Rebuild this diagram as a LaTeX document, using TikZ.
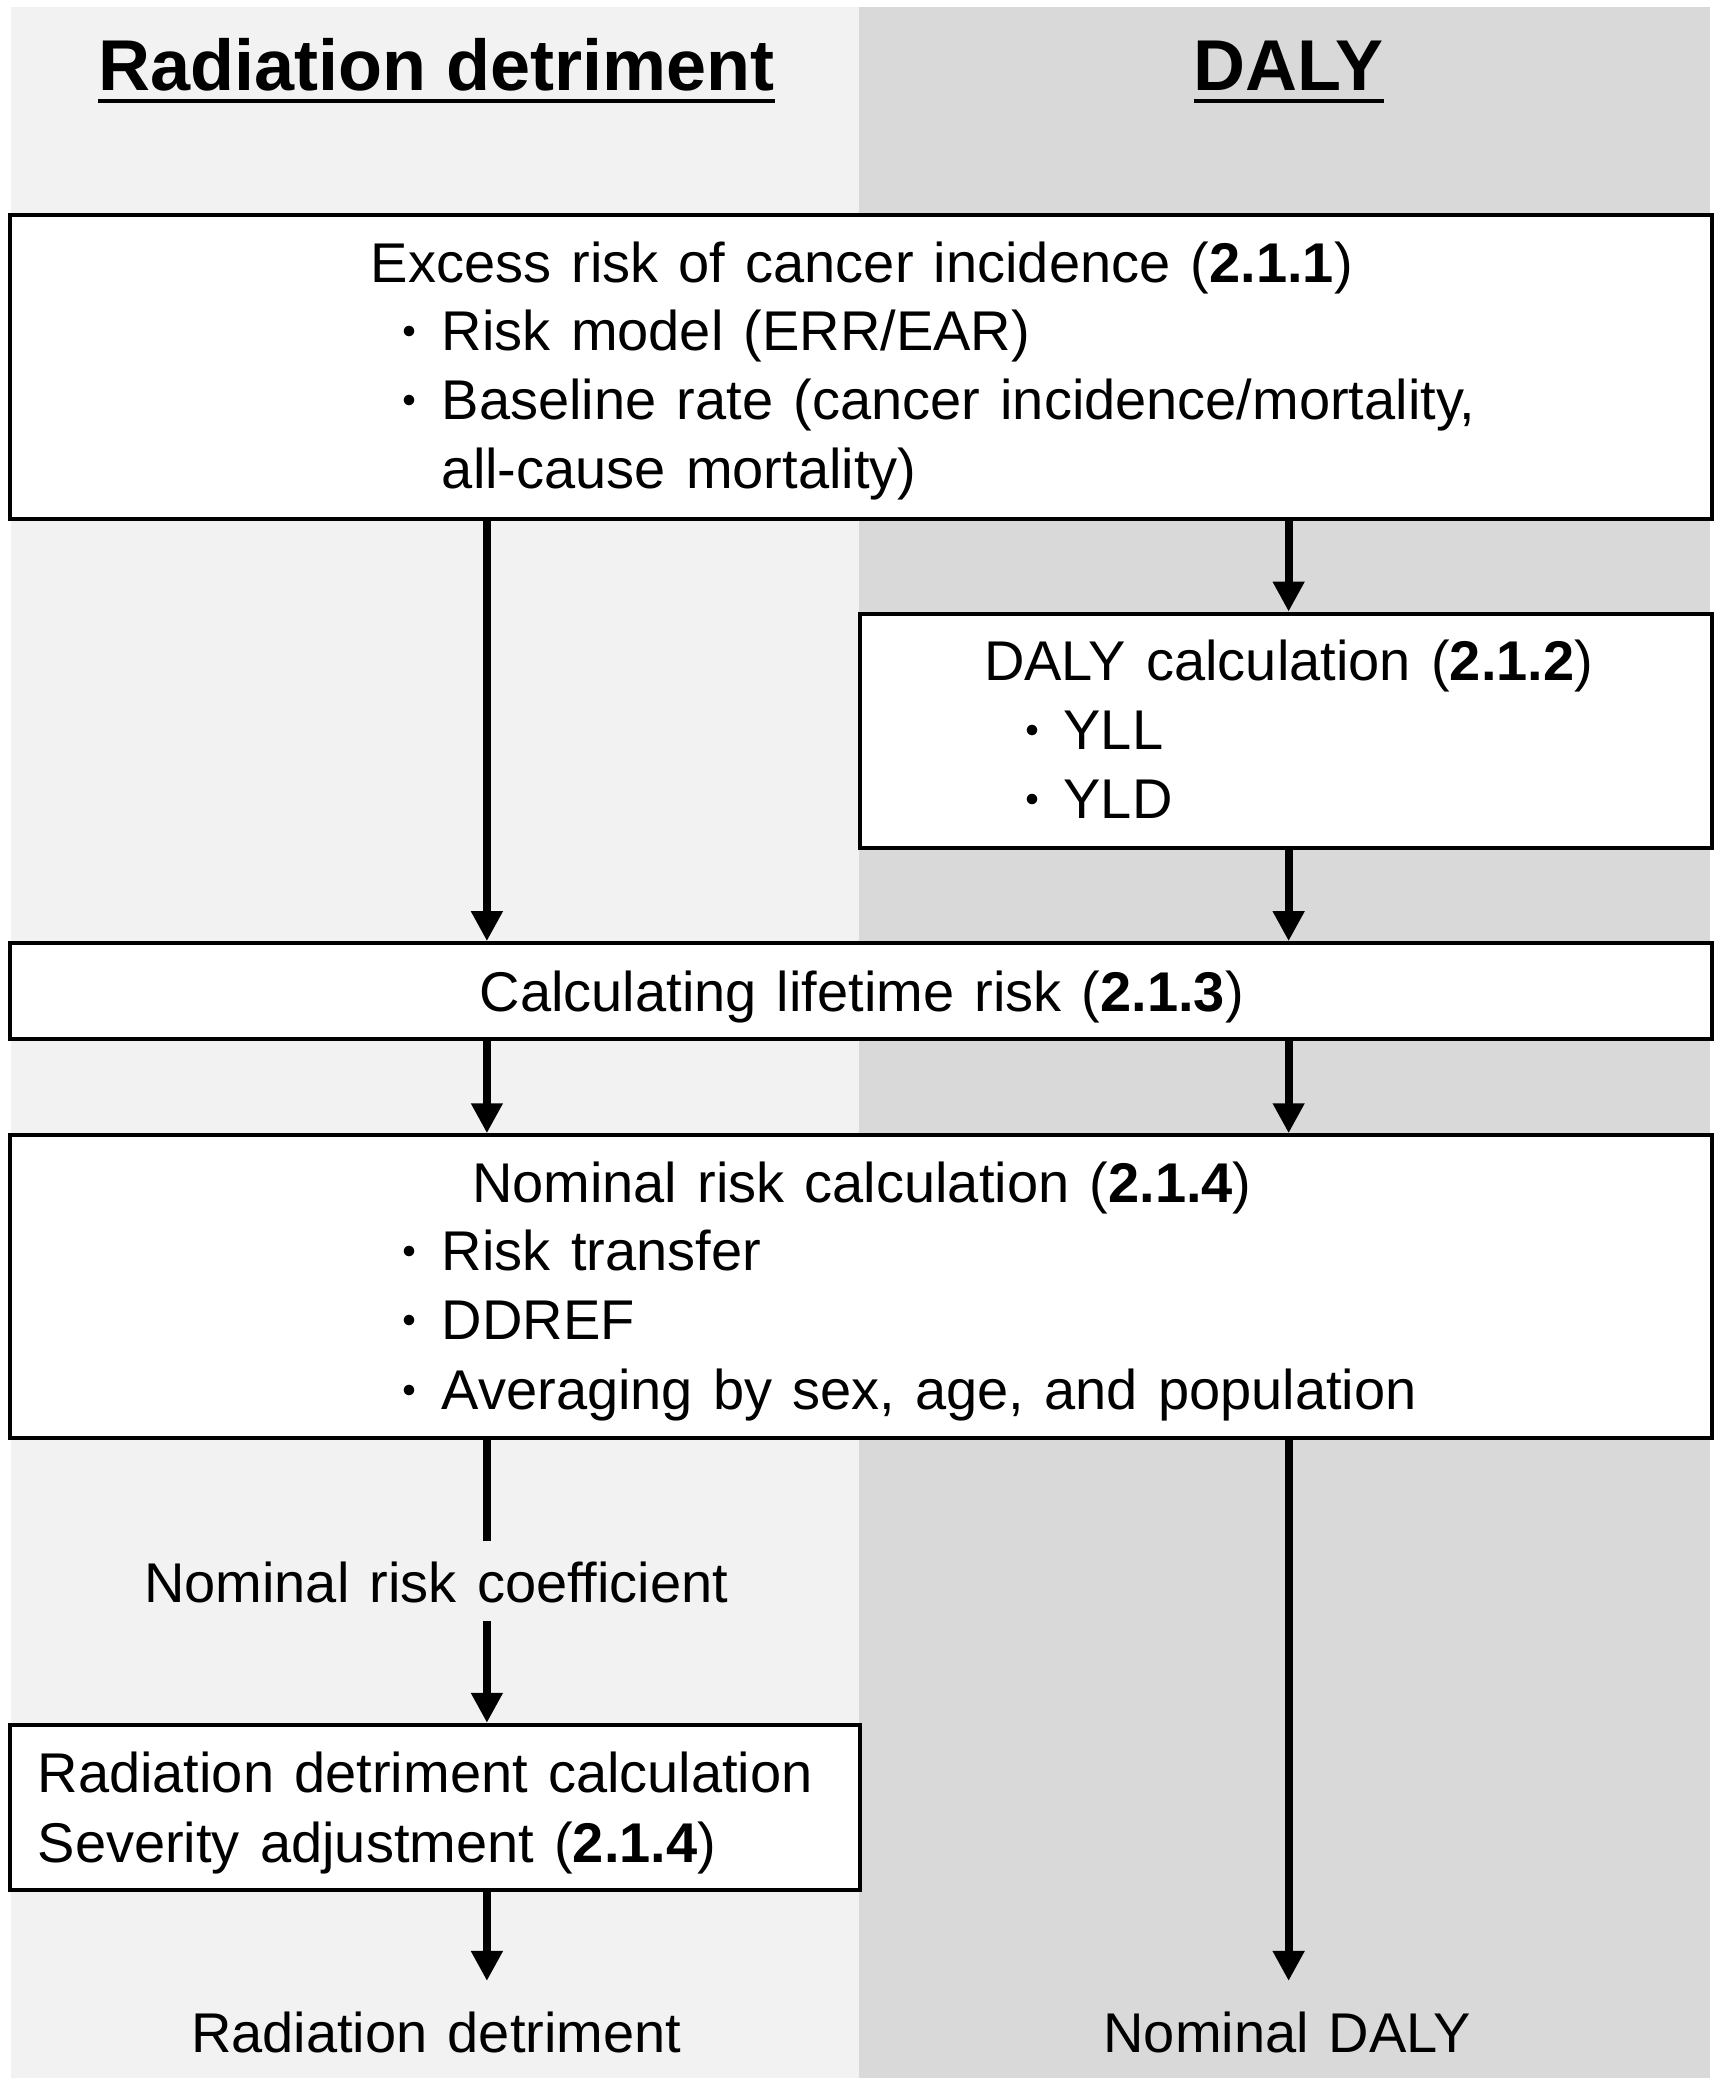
\documentclass[tikz,border=0pt]{standalone}
\usepackage{fontspec}
\setmainfont{Liberation Sans}[WordSpace=1.3]
\newfontfamily\cjk{Noto Sans CJK JP}
\usetikzlibrary{arrows.meta}
\definecolor{leftbg}{HTML}{F2F2F2}
\definecolor{rightbg}{HTML}{D9D9D9}
\tikzset{
  box/.style={draw=black, line width=2pt, fill=white, rectangle, inner sep=0pt},
  txt/.style={inner sep=0pt, font=\fontsize{28}{33}\selectfont},
  ttl/.style={inner sep=0pt, font=\fontsize{36}{42}\selectfont\bfseries},
  arr/.style={line width=4pt, -{Triangle[width=15pt,length=15pt]}},
  plain/.style={line width=4pt},
  ul/.style={line width=1.8pt}
}
\newcommand{\bul}{{\cjk\fontsize{25}{30}\selectfont ・}}
\begin{document}
\begin{tikzpicture}[x=0.6671pt, y=-0.6671pt]
\useasboundingbox (0,0) rectangle (1293,1566);
% panels
\fill[leftbg] (8,5) rectangle (644,1558);
\fill[rightbg] (644,5) rectangle (1282,1558);
% columns
\coordinate (xL) at (365,0);
\coordinate (xR) at (966,0);
% titles
\node[ttl, anchor=base] (t1) at (327,68) {\fontspec{Liberation Sans}[WordSpace=1]Radiation detriment};
\node[ttl, anchor=base] (t2) at (966,68) {DALY};
\draw[ul] ([yshift=-5pt]t1.base west) -- ([yshift=-5pt]t1.base east);
\draw[ul] ([yshift=-5pt]t2.base west) -- ([yshift=-5pt]t2.base east);
% boxes
\node[box, minimum width=850.9pt, minimum height=152.1pt] (b1) at (645.25,275) {};
\node[box, minimum width=425.6pt, minimum height=117.4pt] (b2) at (964,548) {};
\node[box, minimum width=850.9pt, minimum height=48pt] (b3) at (645.25,743) {};
\node[box, minimum width=850.9pt, minimum height=151.4pt] (b4) at (645.25,964.5) {};
\node[box, minimum width=425.3pt, minimum height=82.7pt] (b5) at (326.25,1355) {};
% box 1 text
\node[txt, anchor=base] (b1t) at (646,211.5) {Excess risk of cancer incidence ({\bfseries 2.1.1})};
\node[txt, anchor=base] (b1d1) at (307,262.5) {\bul};
\node[txt, anchor=base west] (b1l1) at (331,262.5) {Risk model (ERR/EAR)};
\node[txt, anchor=base] (b1d2) at (307,314.5) {\bul};
\node[txt, anchor=base west] (b1l2) at (331,314.5) {Baseline rate (cancer incidence/mortality,};
\node[txt, anchor=base west] (b1l3) at (331,366.5) {all-cause mortality)};
% box 2 text
\node[txt, anchor=base] (b2t) at (966,510.5) {DALY calculation ({\bfseries 2.1.2})};
\node[txt, anchor=base] (b2d1) at (774,561.5) {\bul};
\node[txt, anchor=base west] (b2l1) at (797,561.5) {YLL};
\node[txt, anchor=base] (b2d2) at (774,613.5) {\bul};
\node[txt, anchor=base west] (b2l2) at (797,613.5) {YLD};
% box 3 text
\node[txt, anchor=base] (b3t) at (646,758.5) {Calculating lifetime risk ({\bfseries 2.1.3})};
% box 4 text
\node[txt, anchor=base] (b4t) at (646,901.5) {Nominal risk calculation ({\bfseries 2.1.4})};
\node[txt, anchor=base] (b4d1) at (307,952.5) {\bul};
\node[txt, anchor=base west] (b4l1) at (331,952.5) {Risk transfer};
\node[txt, anchor=base] (b4d2) at (307,1004.5) {\bul};
\node[txt, anchor=base west] (b4l2) at (331,1004.5) {DDREF};
\node[txt, anchor=base] (b4d3) at (307,1056.5) {\bul};
\node[txt, anchor=base west] (b4l3) at (331,1056.5) {Averaging by sex, age, and population};
% box 5 text
\node[txt, anchor=base west] (b5l1) at (28,1343.5) {Radiation detriment calculation};
\node[txt, anchor=base west] (b5l2) at (28,1396.5) {Severity adjustment ({\bfseries 2.1.4})};
% free labels
\node[txt, anchor=base] (nrc) at (327,1201.5) {Nominal risk coefficient};
\node[txt, anchor=base] (rd) at (327,1538.5) {Radiation detriment};
\node[txt, anchor=base] (nd) at (965,1538.5) {Nominal DALY};
\coordinate (nrcTop) at (327,1155);
\coordinate (nrcBot) at (327,1215);
\coordinate (endY) at (0,1485);
% connectors
\draw[arr] (xL |- b1.south) -- (xL |- b3.north);
\draw[arr] (xR |- b1.south) -- (xR |- b2.north);
\draw[arr] (xR |- b2.south) -- (xR |- b3.north);
\draw[arr] (xL |- b3.south) -- (xL |- b4.north);
\draw[arr] (xR |- b3.south) -- (xR |- b4.north);
\draw[plain] (xL |- b4.south) -- (xL |- nrcTop);
\draw[arr] (xL |- nrcBot) -- (xL |- b5.north);
\draw[arr] (xL |- b5.south) -- (xL |- endY);
\draw[arr] (xR |- b4.south) -- (xR |- endY);
\end{tikzpicture}
\end{document}
